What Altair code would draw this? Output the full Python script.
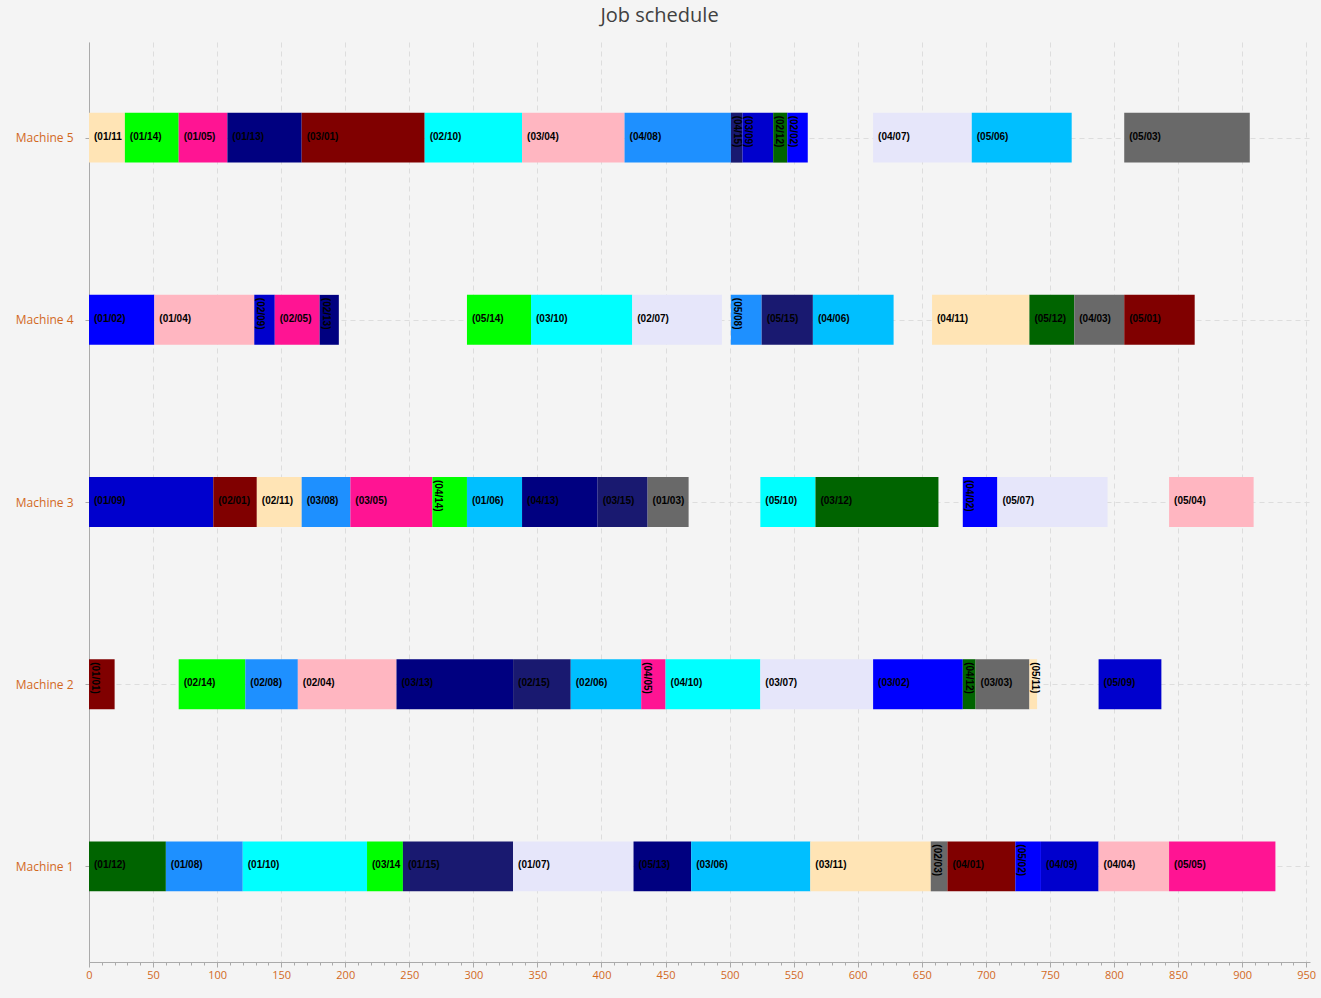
import altair as alt
import pandas as pd

# ---- data -------------------------------------------------------------
machines = (
    [5] * 15 + [4] * 15 + [3] * 15 + [2] * 15 + [1] * 15
)
tasks = [
    # Machine 5
    "(01/11)", "(01/14)", "(01/05)", "(01/13)", "(03/01)", "(02/10)", "(03/04)", "(04/08)",
    "(04/15)", "(03/09)", "(02/12)", "(02/02)", "(04/07)", "(05/06)", "(05/03)",
    # Machine 4
    "(01/02)", "(01/04)", "(02/09)", "(02/05)", "(02/13)", "(05/14)", "(03/10)", "(02/07)",
    "(05/08)", "(05/15)", "(04/06)", "(04/11)", "(05/12)", "(04/03)", "(05/01)",
    # Machine 3
    "(01/09)", "(02/01)", "(02/11)", "(03/08)", "(03/05)", "(04/14)", "(01/06)", "(04/13)",
    "(03/15)", "(01/03)", "(05/10)", "(03/12)", "(04/02)", "(05/07)", "(05/04)",
    # Machine 2
    "(01/01)", "(02/14)", "(02/08)", "(02/04)", "(03/13)", "(02/15)", "(02/06)", "(04/05)",
    "(04/10)", "(03/07)", "(03/02)", "(04/12)", "(03/03)", "(05/11)", "(05/09)",
    # Machine 1
    "(01/12)", "(01/08)", "(01/10)", "(03/14)", "(01/15)", "(01/07)", "(05/13)", "(03/06)",
    "(03/11)", "(02/03)", "(04/01)", "(05/02)", "(04/09)", "(04/04)", "(05/05)",
]
starts = [
    0, 28, 70, 108, 166, 262, 338, 418, 501, 510, 534, 545, 612, 689, 808,
    0, 51, 129, 145, 180, 295, 345, 424, 501, 525, 565, 658, 734, 769, 808,
    0, 97, 131, 166, 204, 268, 295, 338, 397, 436, 524, 567, 682, 709, 843,
    0, 70, 122, 163, 240, 331, 376, 431, 450, 524, 612, 682, 692, 734, 788,
    0, 60, 120, 217, 245, 331, 425, 470, 563, 657, 670, 723, 743, 788, 843,
]
ends = [
    28, 70, 108, 166, 262, 338, 418, 501, 510, 534, 545, 561, 689, 767, 906,
    51, 129, 145, 180, 195, 345, 424, 494, 525, 565, 628, 734, 769, 808, 863,
    97, 131, 166, 204, 268, 295, 338, 397, 436, 468, 567, 663, 709, 795, 909,
    20, 122, 163, 240, 331, 376, 431, 450, 524, 612, 682, 692, 734, 740, 837,
    60, 120, 217, 245, 331, 425, 470, 563, 657, 670, 723, 743, 788, 843, 926,
]
task_kinds = ["01", "02", "03", "04", "05", "06", "07", "08",
              "09", "10", "11", "12", "13", "14", "15"]
kind_colors = ["#800000", "#0000FF", "#696969", "#FFB6C1", "#FF1493", "#00BFFF",
               "#E6E6FA", "#1E90FF", "#0000CD", "#00FFFF", "#FFE4B5", "#006400",
               "#000080", "#00FF00", "#191970"]
machine_ticks = [1, 2, 3, 4, 5]
x_ticks = list(range(0, 951, 50))
x_minor = list(range(0, 951, 10))

df = pd.DataFrame({"machine": machines, "task": tasks, "start": starts, "end": ends})
df["kind"] = df["task"].str[4:6]
df["dur"] = df["end"] - df["start"]

LABEL_COLOR = "#D2691E"
GRID_COLOR = "#DDDDDD"
PLOT_W = 1221
X_MAX = 953

xscale = alt.Scale(domain=[0, X_MAX], nice=False, zero=False)
yscale = alt.Scale(domain=[0.475, 5.525], nice=False, zero=False)

x_axis = alt.Axis(values=x_ticks, title=None, grid=True, gridColor=GRID_COLOR,
                  gridDash=[5, 4], labelColor=LABEL_COLOR, labelFontSize=11,
                  labelFont="Open Sans", tickColor="#AAAAAA", tickSize=5,
                  domainColor="#AAAAAA", labelPadding=2, labelFlush=False)
y_axis = alt.Axis(values=machine_ticks, title=None, grid=True, gridColor=GRID_COLOR,
                  gridDash=[5, 4], labelColor=LABEL_COLOR, labelFontSize=12,
                  labelFont="Open Sans", labelExpr="'Machine ' + datum.value",
                  tickColor="#AAAAAA", tickSize=4, domainColor="#AAAAAA",
                  labelPadding=12)

base = alt.Chart(df).transform_calculate(
    y0="datum.machine - 0.137", y1="datum.machine + 0.137"
)

bars = base.mark_rect().encode(
    x=alt.X("start:Q", scale=xscale, axis=x_axis),
    x2="end:Q",
    y=alt.Y("y0:Q", scale=yscale, axis=y_axis),
    y2="y1:Q",
    color=alt.Color("kind:N", scale=alt.Scale(domain=task_kinds, range=kind_colors),
                    legend=None),
)

h_text = base.transform_filter("datum.dur >= 27.5").mark_text(
    align="left", baseline="middle", dx=5, dy=-1, font="Liberation Sans",
    fontWeight="bold", fontSize=10, color="black",
    limit=alt.expr(f"datum.dur * {PLOT_W} / {X_MAX} - 5"), ellipsis="\u200b",
).encode(
    x=alt.X("start:Q", scale=xscale, axis=None),
    y=alt.Y("machine:Q", scale=yscale, axis=y_axis),
    text="task:N",
)

v_text = base.transform_filter("datum.dur < 27.5").mark_text(
    align="left", baseline="middle", angle=90, dx=-22, dy=-6, font="Liberation Sans",
    fontWeight="bold", fontSize=10, color="black"
).encode(
    x=alt.X("start:Q", scale=xscale, axis=None),
    y=alt.Y("machine:Q", scale=yscale, axis=y_axis),
    text="task:N",
)

minor = alt.Chart(pd.DataFrame({"v": x_minor})).mark_point(opacity=0).encode(
    x=alt.X("v:Q", scale=xscale,
            axis=alt.Axis(values=x_minor, labels=False, grid=False, domain=False,
                          tickSize=3, tickColor="#AAAAAA", title=None, orient="bottom")),
)

chart = alt.layer(bars, h_text, v_text, minor).resolve_axis(x="independent").properties(
    width=PLOT_W,
    height=920,
    autosize=alt.AutoSizeParams(type="none"),
    padding={"left": 89, "top": 42, "right": 11, "bottom": 36},
    background="#F4F4F4",
    title=alt.TitleParams("Job schedule", fontSize=20, font="Open Sans",
                          fontWeight="normal", color="#404040", anchor="middle",
                          dx=-40, dy=20, offset=16, baseline="bottom"),
).configure_view(stroke=None)

chart.save("out.html", embed_options={"renderer": "svg", "actions": False})
